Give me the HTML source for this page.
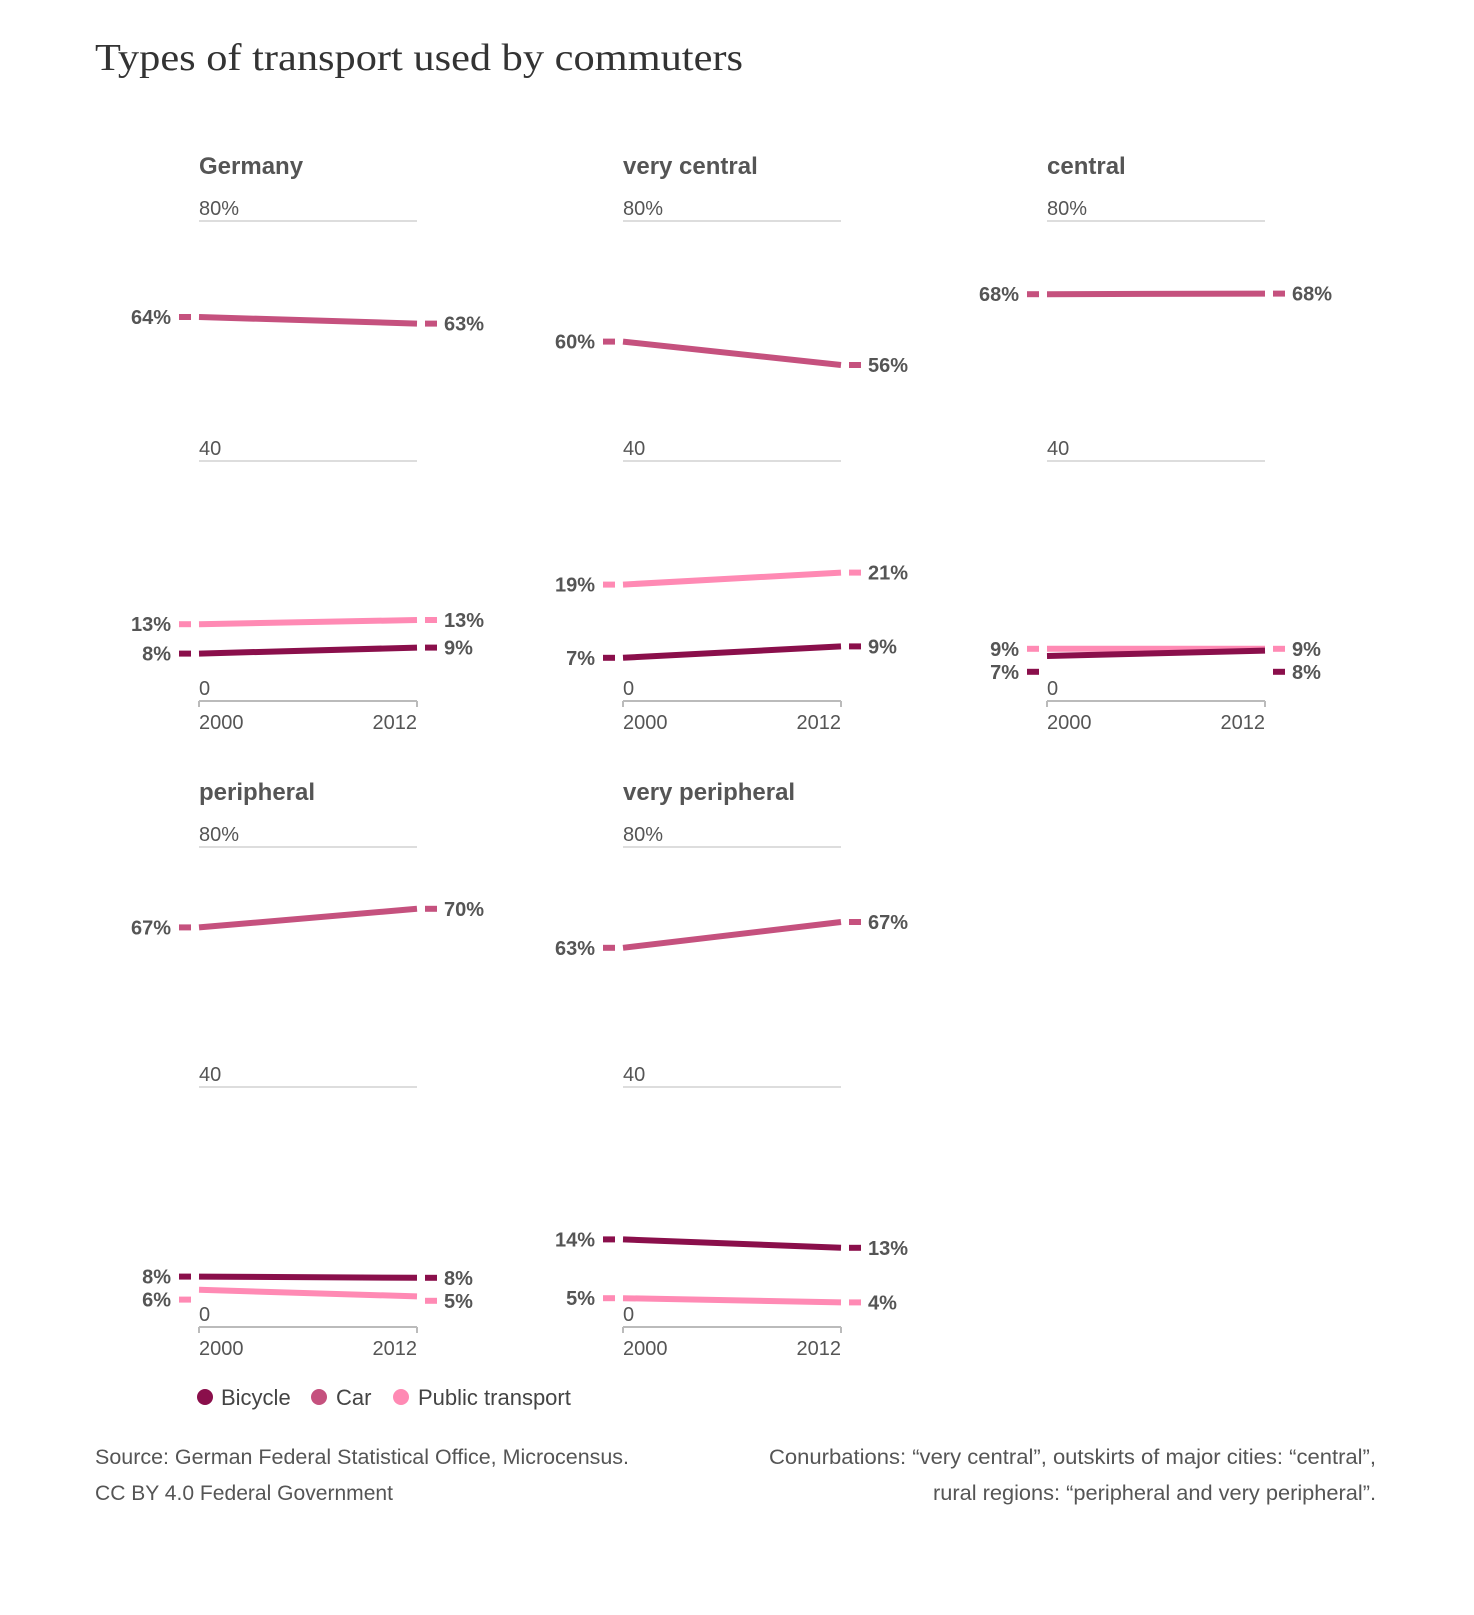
<!DOCTYPE html>
<html><head><meta charset="utf-8"><style>
html,body{margin:0;padding:0;background:#fff;}
svg{display:block;font-family:"Liberation Sans",sans-serif;}
</style></head><body>
<svg id="chart" width="1474" height="1615" viewBox="0 0 1474 1615" xmlns="http://www.w3.org/2000/svg">
<text x="95" y="70" style="font-family:'Liberation Serif',serif" font-size="38" fill="#333" textLength="648" lengthAdjust="spacingAndGlyphs">Types of transport used by commuters</text>
<g id="panels"></g>
<g>
<circle cx="205" cy="1397" r="8" fill="#8a0f4b"/>
<text x="221" y="1405" font-size="22" fill="#444">Bicycle</text>
<circle cx="319" cy="1397" r="8" fill="#c5517e"/>
<text x="336" y="1405" font-size="22" fill="#444">Car</text>
<circle cx="401" cy="1397" r="8" fill="#ff8ab4"/>
<text x="418" y="1405" font-size="22" fill="#444">Public transport</text>
</g>
<text x="95" y="1464" font-size="21" fill="#555" textLength="534" lengthAdjust="spacingAndGlyphs">Source: German Federal Statistical Office, Microcensus.</text>
<text x="95" y="1500" font-size="21" fill="#555" textLength="298" lengthAdjust="spacingAndGlyphs">CC BY 4.0 Federal Government</text>
<text x="1376" y="1464" font-size="21" fill="#555" text-anchor="end" textLength="607" lengthAdjust="spacingAndGlyphs">Conurbations: “very central”, outskirts of major cities: “central”,</text>
<text x="1376" y="1500" font-size="21" fill="#555" text-anchor="end" textLength="443" lengthAdjust="spacingAndGlyphs">rural regions: “peripheral and very peripheral”.</text>
</svg>
<script>
const regions = ["Germany","very central","central","peripheral","very peripheral"];
const years = ["2000","2012"];
const yTicks = [80,40,0];
const carStart = [64.0,59.9,67.8,66.6,63.2];
const carEnd = [62.9,56.0,67.9,69.7,67.5];
const publicStart = [12.8,19.4,8.7,6.2,4.8];
const publicEnd = [13.5,21.4,8.7,5.1,4.1];
const bicycleStart = [7.9,7.2,7.5,8.4,14.6];
const bicycleEnd = [8.9,9.1,8.4,8.2,13.2];
const carStartLbl = ["64%","60%","68%","67%","63%"];
const carEndLbl = ["63%","56%","68%","70%","67%"];
const publicStartLbl = ["13%","19%","9%","6%","5%"];
const publicEndLbl = ["13%","21%","9%","5%","4%"];
const bicycleStartLbl = ["8%","7%","7%","8%","14%"];
const bicycleEndLbl = ["9%","9%","8%","8%","13%"];

const NS="http://www.w3.org/2000/svg";
const root=document.getElementById('panels');
function mk(tag,attrs,parent){const e=document.createElementNS(NS,tag);for(const k in attrs)e.setAttribute(k,attrs[k]);parent.appendChild(e);return e;}
const colors={bicycle:"#8a0f4b",car:"#c5517e",public:"#ff8ab4"};
const PW=218;
regions.forEach((name,i)=>{
  const col=i%3,row=Math.floor(i/3);
  const x0=199+col*424, x1=x0+PW;
  const yBase=701+row*626, yTop=221+row*626;
  const yScale=v=>yBase-(v/80)*(yBase-yTop);
  const g=mk('g',{},root);
  
  
  const t=mk('text',{x:x0,y:yTop-47,'font-size':24,'font-weight':'bold',fill:'#555'},g);
  t.textContent=name;
  
  
  yTicks.forEach(v=>{
    const y=yScale(v);
    const l=mk('line',{x1:x0,x2:x1,y1:y,y2:y,stroke:v===0?'#bbb':'#ddd','stroke-width':2},g);
    
    
    const tl=mk('text',{x:x0,y:y-6,'font-size':20,fill:'#555'},g);
    tl.textContent=v===80?'80%':String(v);
    
    
  });
  [x0,x1].forEach(x=>{
    const tk=mk('line',{x1:x,x2:x,y1:yBase,y2:yBase+6,stroke:'#bbb','stroke-width':2},g);
    
    
  });
  const ya=mk('text',{x:x0,y:yBase+28,'font-size':20,fill:'#555'},g);ya.textContent=years[0];
  
  
  const yb=mk('text',{x:x1,y:yBase+28,'font-size':20,fill:'#555','text-anchor':'end'},g);yb.textContent=years[1];
  
  
  const series=[
    {k:'car',s:carStart[i],e:carEnd[i],ls:carStartLbl[i],le:carEndLbl[i]},
    {k:'public',s:publicStart[i],e:publicEnd[i],ls:publicStartLbl[i],le:publicEndLbl[i]},
    {k:'bicycle',s:bicycleStart[i],e:bicycleEnd[i],ls:bicycleStartLbl[i],le:bicycleEndLbl[i]}];
  function place(key){
    const arr=series.map(s=>({s,y:yScale(s[key])})).sort((a,b)=>a.y-b.y);
    for(let j=1;j<arr.length;j++){if(arr[j].y-arr[j-1].y<23)arr[j].y=arr[j-1].y+23;}
    arr.forEach(a=>a.s[key+'Y']=a.y);
  }
  place('s');place('e');
  series.forEach(s=>{
    const c=colors[s.k];
    const ln=mk('line',{x1:x0,x2:x1,y1:yScale(s.s),y2:yScale(s.e),stroke:c,'stroke-width':6},g);
    
    
    const d1=mk('line',{x1:x0-20,x2:x0-8,y1:s.sY,y2:s.sY,stroke:c,'stroke-width':6},g);
    
    
    const d2=mk('line',{x1:x1+8,x2:x1+20,y1:s.eY,y2:s.eY,stroke:c,'stroke-width':6},g);
    
    
    const l1=mk('text',{x:x0-28,y:s.sY+7,'font-size':20,'font-weight':'bold',fill:'#555','text-anchor':'end'},g);
    l1.textContent=s.ls;
    
    
    const l2=mk('text',{x:x1+27,y:s.eY+7,'font-size':20,'font-weight':'bold',fill:'#555'},g);
    l2.textContent=s.le;
    
    
  });
});
</script>
</body></html>
